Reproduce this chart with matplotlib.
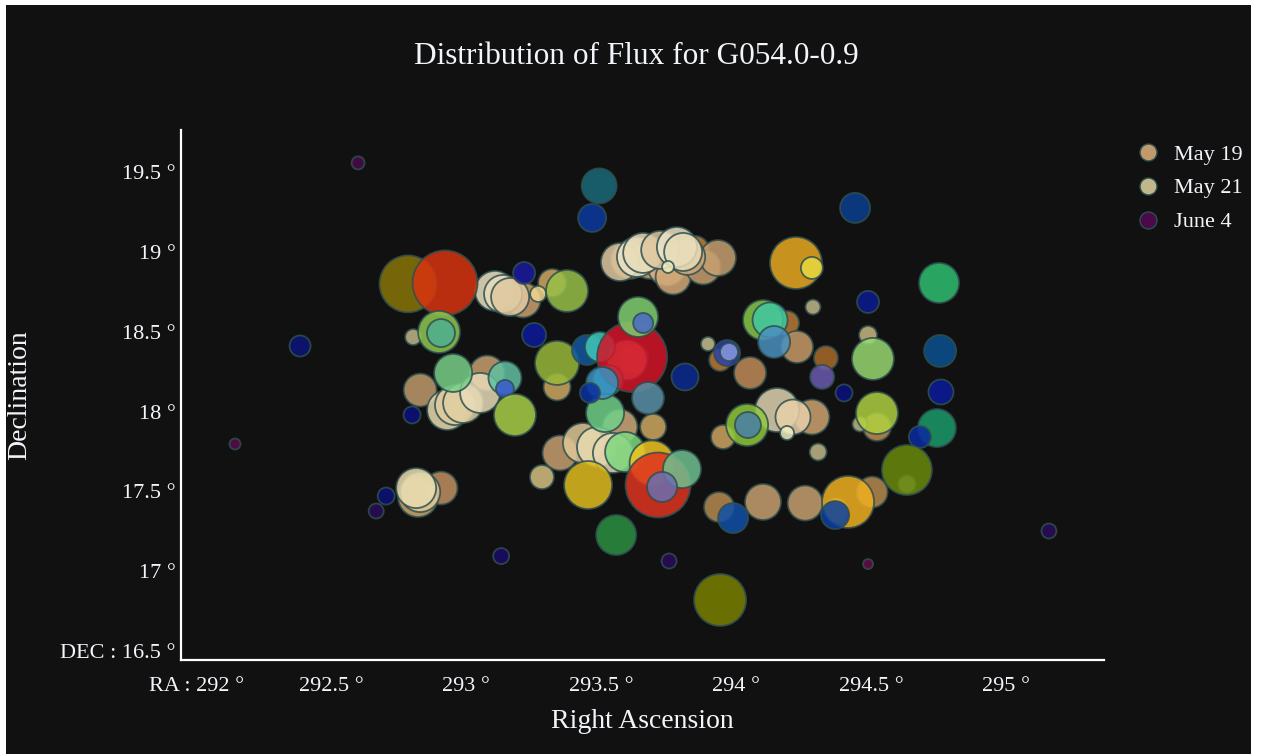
import numpy as np
import matplotlib
matplotlib.use("Agg")
import matplotlib.pyplot as plt
from matplotlib.lines import Line2D
from matplotlib.patches import Rectangle

plt.rcParams['font.family'] = ['Liberation Serif', 'DejaVu Serif']

# ---------------- data ----------------
series_names = ["May 19", "May 21", "June 4"]

may19_ra = [292.830, 293.078, 292.907, 292.822, 293.211, 293.319, 293.337, 293.607,
            293.681, 293.744, 293.767, 293.848, 293.878, 293.933, 293.819, 293.348,
            293.570, 293.693, 293.941, 294.052, 294.189, 294.226, 294.333, 294.281,
            293.952, 293.937, 294.100, 294.256, 294.504, 294.522, 293.622, 293.596]
may19_dec = [18.135, 18.242, 17.521, 17.465, 18.699, 18.806, 18.154, 18.950,
             18.950, 18.906, 18.843, 19.013, 18.906, 18.962, 18.969, 17.741,
             17.904, 17.904, 18.323, 18.242, 18.555, 18.405, 18.336, 17.966,
             17.841, 17.402, 17.434, 17.427, 17.496, 17.904, 18.336, 18.323]
may19_flux = [33, 35, 33, 40, 35, 28, 27, 38, 38, 38, 35, 28, 35, 36, 36, 35,
              35, 26, 22, 32, 24, 32, 24, 35, 24, 30, 36, 35, 31, 28, 28, 40]
may19_colors = ["#c09a6b", "#c8a070", "#c09060", "#d0a870", "#d0a070", "#d4a860",
                "#d0a860", "#c8965a", "#d4aa78", "#d8b080", "#d4aa78", "#c0843a",
                "#c8a070", "#c8a070", "#d0a878", "#c8a070", "#d0aa78", "#d0a860",
                "#b87a35", "#c08c58", "#b87a35", "#c89a68", "#a86a2a", "#d0a470",
                "#d0a460", "#b88a50", "#c8a070", "#c8a070", "#b88a50", "#c09050",
                "#c86a30", "#d8a880"]

may21_ra = [292.804, 292.830, 292.815, 292.930, 292.959, 292.989, 293.052, 293.107,
            293.137, 293.163, 293.267, 293.433, 293.485, 293.544, 293.570, 293.633,
            293.656, 293.719, 293.781, 293.804, 293.748, 293.896, 294.285, 294.489,
            294.152, 294.211, 294.189, 294.304, 294.459, 293.281, 294.633, 294.370]
may21_dec = [18.467, 17.496, 17.521, 18.010, 18.041, 18.054, 18.117, 18.756,
             18.737, 18.718, 18.737, 17.803, 17.778, 17.741, 18.937, 18.969,
             18.994, 19.013, 19.031, 19.000, 18.906, 18.424, 18.655, 18.480,
             18.010, 17.966, 17.866, 17.747, 17.922, 17.590, 17.546, 17.383]
may21_flux = [16, 40, 40, 40, 40, 40, 40, 40, 38, 38, 16, 40, 40, 40, 38, 40,
              40, 38, 40, 38, 12, 14, 15, 18, 44, 35, 14, 17, 15, 24, 18, 24]
may21_colors = ["#c0b88a", "#e0c898", "#e8dcb0", "#e8dcb0", "#e0cca0", "#e0d0a0",
                "#e8dcb8", "#ece4c4", "#e8dcb8", "#e0c8a0", "#f0d890", "#e0c898",
                "#e8dcb0", "#e8d8b0", "#e0c8a0", "#ece4c8", "#e8dcb8", "#e0c8a0",
                "#ece4c8", "#e8dcb8", "#f0f0c0", "#c8c090", "#c0b88a", "#c8b880",
                "#e0d4b0", "#e8d0a8", "#f0f0c0", "#c0b88a", "#c0b888", "#d8c080",
                "#a8a890", "#c8c090"]

june4_ra = [292.600, 292.385, 292.144, 292.704, 292.667, 292.800, 293.130, 292.785,
            292.922, 292.900, 292.907, 292.952, 293.144, 293.144, 293.181, 293.215,
            293.374, 293.252, 293.337, 293.448, 293.496, 293.526, 293.615, 293.493,
            293.467, 293.637, 293.656, 293.811, 293.967, 293.974, 294.100, 294.126,
            294.141, 294.222, 294.281, 294.441, 294.489, 294.752, 294.756, 294.759,
            294.744, 294.681, 294.507, 294.319, 294.400, 294.522, 294.041, 294.044,
            294.633, 294.415, 294.367, 293.989, 293.941, 294.489, 295.159, 293.752,
            293.556, 293.452, 293.589, 293.689, 293.711, 293.800, 293.726, 293.515,
            293.504, 293.459, 293.674]
june4_dec = [19.558, 18.411, 17.797, 17.471, 17.377, 17.979, 17.095, 18.800,
             18.806, 18.499, 18.492, 18.242, 18.211, 18.142, 17.979, 18.868,
             18.756, 18.480, 18.305, 18.386, 18.405, 18.198, 18.342, 19.414,
             19.213, 18.593, 18.555, 18.217, 18.367, 18.373, 18.574, 18.574,
             18.436, 18.931, 18.900, 19.276, 18.687, 18.806, 18.380, 18.123,
             17.897, 17.841, 18.330, 18.217, 18.117, 17.991, 17.916, 17.916,
             17.634, 17.434, 17.352, 17.333, 16.820, 17.045, 17.252, 17.064,
             17.227, 17.540, 17.747, 17.678, 17.540, 17.640, 17.528, 17.991,
             18.179, 18.117, 18.085]
june4_flux = [13, 21, 11, 17, 15, 17, 16, 57, 65, 42, 28, 38, 33, 18, 42, 22,
              42, 24, 44, 30, 30, 30, 70, 35, 28, 40, 20, 27, 26, 18, 40, 35,
              32, 52, 22, 30, 22, 40, 32, 25, 38, 22, 42, 24, 17, 42, 42, 26,
              50, 52, 28, 30, 52, 10, 15, 15, 40, 48, 40, 45, 65, 38, 30, 38,
              32, 20, 32]
june4_colors = ["#4a0a4a", "#0a157a", "#5a0a4a", "#0a107a", "#2a0a5a", "#0a1080",
                "#1a0a6a", "#8a7508", "#d8340e", "#90c850", "#50b090", "#78d088",
                "#60c0a0", "#3a5ad0", "#a8d048", "#1a1aa0", "#98c048", "#0a1a9a",
                "#98b83a", "#1058a0", "#40c8b8", "#30c0c0", "#d41428", "#1a6a7a",
                "#0a3aa0", "#80d070", "#4a6ac8", "#0a2a90", "#2a40b0", "#8898e0",
                "#88c848", "#40c8a0", "#4a90c0", "#e8aa20", "#e8d840", "#0a4090",
                "#0a1a90", "#2ec070", "#0a5090", "#0a1a9a", "#1a9a6a", "#0a2aa0",
                "#98d870", "#6a5ab0", "#0a1080", "#b0d040", "#90c838", "#4a80a8",
                "#6a8a0a", "#f0b020", "#0a40a0", "#1050a8", "#7a8000", "#6a0a4a",
                "#2a0a5a", "#2a0a5a", "#2a9040", "#e0bc20", "#80d880", "#f0c420",
                "#e03420", "#70c090", "#6a70b0", "#70d088", "#3a90c0", "#0a30a0",
                "#5a90a8"]

x_ticks = [292, 292.5, 293, 293.5, 294, 294.5, 295]
x_tick_labels = ["RA : 292 °", "292.5 °", "293 °", "293.5 °", "294 °", "294.5 °", "295 °"]
y_ticks = [16.5, 17, 17.5, 18, 18.5, 19, 19.5]
y_tick_labels = ["DEC : 16.5 °", "17 °", "17.5 °", "18 °", "18.5 °", "19 °", "19.5 °"]

title = "Distribution of Flux for G054.0-0.9"

# ---------------- styling ----------------
BG = "#111111"
TXT = "#f2f5fa"
EDGE = "#2f4f4f"
W, H = 1263, 754

fig = plt.figure(figsize=(W / 100, H / 100), dpi=100, facecolor="white")
fig.patches.append(Rectangle((6 / W, 0), (1251 - 6) / W, 1 - 5 / H,
                             transform=fig.transFigure, facecolor=BG,
                             edgecolor="none", zorder=-10))

ax = fig.add_axes([181 / W, 1 - 660 / H, (1104 - 181) / W, (660 - 130) / H])
ax.set_facecolor(BG)


def px_to_area(flux):
    # marker diameter in screen pixels -> scatter area in points^2
    return (np.asarray(flux, dtype=float) * 0.72) ** 2


traces = [
    (may19_ra, may19_dec, may19_flux, may19_colors),
    (may21_ra, may21_dec, may21_flux, may21_colors),
    (june4_ra, june4_dec, june4_flux, june4_colors),
]
for z, (ra, dec, flux, cols) in enumerate(traces):
    ax.scatter(ra, dec, s=px_to_area(flux), c=cols, alpha=0.85,
               edgecolors=EDGE, linewidths=1.3, zorder=3 + z)

ax.set_xlim(291.944, 295.363)
ax.set_ylim(16.444, 19.764)
ax.set_xticks(x_ticks)
ax.set_xticklabels(x_tick_labels)
ax.set_yticks(y_ticks)
ax.set_yticklabels(y_tick_labels)
ax.tick_params(axis="both", length=0, colors=TXT, labelsize=16)
ax.tick_params(axis="x", pad=12)
ax.tick_params(axis="y", pad=4)

for side in ("top", "right"):
    ax.spines[side].set_visible(False)
for side in ("left", "bottom"):
    ax.spines[side].set_color("white")
    ax.spines[side].set_linewidth(1.6)

fig.text(636 / W, 1 - 57 / H, title, ha="center", va="center",
         fontsize=22.5, color=TXT)
fig.text(642 / W, 1 - 722 / H, "Right Ascension", ha="center", va="center",
         fontsize=20, color=TXT)
fig.text(20 / W, 1 - 395 / H, "Declination", ha="center", va="center",
         rotation=90, fontsize=20, color=TXT)

handles = [Line2D([], [], linestyle="none", marker="o", markersize=12.2,
                  markerfacecolor=cols[0], markeredgecolor=EDGE,
                  markeredgewidth=1.0)
           for (_, _, _, cols) in traces]
leg = fig.legend(handles, series_names, loc="upper left",
                 bbox_to_anchor=(1137 / W, 1 - 144 / H), frameon=False,
                 fontsize=16, labelcolor=TXT, handlelength=1.0,
                 handletextpad=0.65, labelspacing=0.6, borderpad=0,
                 borderaxespad=0)

fig.savefig("out.png", dpi=100, facecolor=fig.get_facecolor())
